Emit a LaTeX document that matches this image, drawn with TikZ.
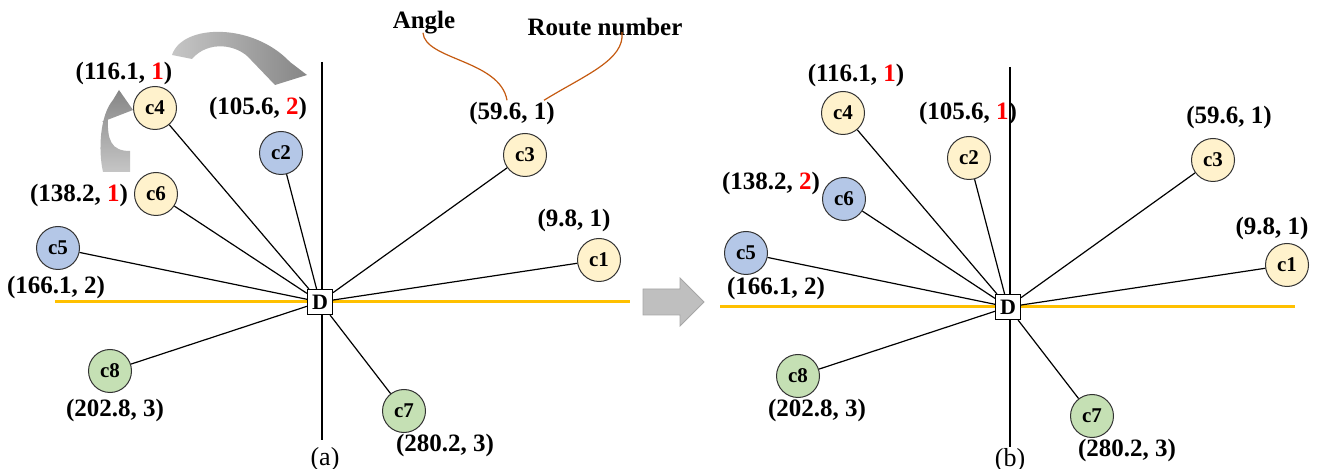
\documentclass[tikz,border=0pt]{standalone}
\usepackage{fontspec}
\setmainfont{Liberation Serif}
\usetikzlibrary{arrows.meta,calc}
\definecolor{cyel}{HTML}{FFF2CC}
\definecolor{cblu}{HTML}{B4C7E7}
\definecolor{cgrn}{HTML}{C5E0B4}
\definecolor{corg}{HTML}{FFC000}
\definecolor{cbrn}{HTML}{C55A11}
\newcommand{\rt}[1]{\textcolor{red}{#1}}

\begin{document}
\begin{tikzpicture}[x=0.5pt,y=-0.5pt,
  cust/.style={circle,draw=black!80,line width=0.5pt,minimum size=21.5pt,inner sep=0pt,font=\fontsize{10.5}{12}\selectfont\bfseries},
  yel/.style={cust,fill=cyel},
  blu/.style={cust,fill=cblu},
  grn/.style={cust,fill=cgrn},
  lab/.style={font=\fontsize{12.5}{14}\selectfont\bfseries,inner sep=0pt},
  depot/.style={draw,fill=white,line width=0.6pt,minimum size=12.5pt,inner sep=0pt,font=\fontsize{11}{12}\selectfont\bfseries},
  route/.style={black,line width=0.6pt}]
  \useasboundingbox (0,0) rectangle (1320,469);
  % (a) before the swap
  \begin{scope}
  \coordinate (aN) at (322,62); \coordinate (aS) at (322,440);
  \coordinate (aW) at (55,302); \coordinate (aE) at (630,302);
  \draw[line width=0.6pt] (aN) -- (aS);
  \draw[corg,line width=1.5pt] (aW) -- (aE);
  \node[depot] (aD) at (320,302) {D};
  \node[yel] (a1) at (599,260) {c1};
  \node[blu] (a2) at (281,153) {c2};
  \node[yel] (a3) at (525,155) {c3};
  \node[yel] (a4) at (155,108) {c4};
  \node[blu] (a5) at (58,248) {c5};
  \node[yel] (a6) at (156,194) {c6};
  \node[grn] (a7) at (404,411) {c7};
  \node[grn] (a8) at (110,371) {c8};
  \foreach \i in {1,...,8} \draw[route] (aD) -- (a\i);
  \node[lab] (al1) at (574,220) {(9.8, 1)};
  \node[lab] (al2) at (258,108) {(105.6, \rt{2})};
  \node[lab] (al3) at (512,113) {(59.6, 1)};
  \node[lab] (al4) at (124,73) {(116.1, \rt{1})};
  \node[lab] (al5) at (56,287) {(166.1, 2)};
  \node[lab] (al6) at (79,195) {(138.2, \rt{1})};
  \node[lab] (al7) at (445,445) {(280.2, 3)};
  \node[lab] (al8) at (115,410) {(202.8, 3)};
  \node[font=\fontsize{13}{14}\selectfont] (acap) at (325,459) {(a)};
  % what the pair means
  \node[lab] (ang) at (424,23) {Angle};
  \node[lab] (rnum) at (605,27) {Route number};
  \draw[cbrn,line width=0.6pt] ($(ang.south)+(-1,-2)$) .. controls (425,60) and (500,60) .. ($(al3.north)+(-5,-1)$);
  \draw[cbrn,line width=0.6pt] ($(rnum.south)+(17,-4)$) .. controls (625,60) and (585,75) .. ($(al3.north)+(32,-1)$);
  % moves (curved block arrows)
  \shade[left color=gray!45,right color=gray!95]
    (172,55) .. controls (182,24) and (252,22) .. (290,62) -- (307,75) -- (275,85) -- (251,60)
    .. controls (238,44) and (208,40) .. (192,59) -- cycle;
  \shade[bottom color=gray!45,top color=gray!95]
    (130,172) -- (130,151) .. controls (111,151) and (107,140) .. (108,117) -- (102,122) -- (133,110)
    -- (119,90) -- (113,100) .. controls (100,115) and (98,150) .. (103,172) -- cycle;
  \end{scope}
  % middle arrow
  \draw[fill=gray!50,draw=gray!70] (643,289) -- (680,289) -- (680,278) -- (704,302) -- (680,326) -- (680,315) -- (643,315) -- cycle;
  % (b) after the swap
  \begin{scope}[shift={(688,5)}]
  \coordinate (bN) at (322,62); \coordinate (bS) at (322,442);
  \coordinate (bW) at (32,302); \coordinate (bE) at (607,302);
  \draw[line width=0.6pt] (bN) -- (bS);
  \draw[corg,line width=1.5pt] (bW) -- (bE);
  \node[depot] (bD) at (320,302) {D};
  \node[yel] (b1) at (599,260) {c1};
  \node[yel] (b2) at (281,153) {c2};
  \node[yel] (b3) at (525,155) {c3};
  \node[yel] (b4) at (155,108) {c4};
  \node[blu] (b5) at (58,248) {c5};
  \node[blu] (b6) at (156,194) {c6};
  \node[grn] (b7) at (404,411) {c7};
  \node[grn] (b8) at (110,371) {c8};
  \foreach \i in {1,...,8} \draw[route] (bD) -- (b\i);
  \node[lab] (bl1) at (584,223) {(9.8, 1)};
  \node[lab] (bl2) at (280,108) {(105.6, \rt{1})};
  \node[lab] (bl3) at (541,112) {(59.6, 1)};
  \node[lab] (bl4) at (168,70) {(116.1, \rt{1})};
  \node[lab] (bl5) at (88,283) {(166.1, 2)};
  \node[lab] (bl6) at (83,178) {(138.2, \rt{2})};
  \node[lab] (bl7) at (439,445) {(280.2, 3)};
  \node[lab] (bl8) at (129,405) {(202.8, 3)};
  \node[font=\fontsize{13}{14}\selectfont] (bcap) at (322,455) {(b)};
  \end{scope}
\end{tikzpicture}
\end{document}
